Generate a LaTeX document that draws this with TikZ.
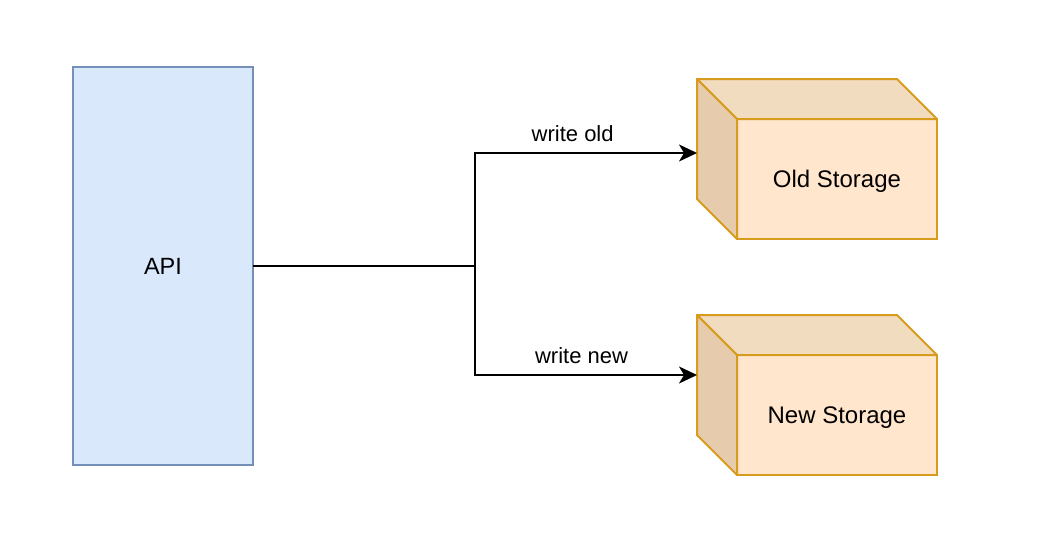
\documentclass[tikz,border=0pt]{standalone}
\usepackage{fontspec}
\setmainfont{Liberation Sans}
\usetikzlibrary{arrows.meta,positioning}

\definecolor{apifill}{HTML}{DAE8FC}
\definecolor{apiline}{HTML}{7590B8}
\definecolor{storefill}{HTML}{FFE6CC}
\definecolor{storetop}{HTML}{F2DCBF}
\definecolor{storeside}{HTML}{E6CCAD}
\definecolor{storeline}{HTML}{D79B1E}

\begin{document}
\begin{tikzpicture}[
    node distance=484pt,
    api/.style={
        rectangle, draw=apiline, fill=apifill, line width=1.6pt, outer sep=0pt,
        minimum width=180pt, minimum height=398pt, font=\fontsize{23.5}{28}\selectfont
    },
    store/.style={
        rectangle, draw=storeline, fill=storefill, line width=2pt, outer sep=0pt,
        minimum width=200pt, minimum height=120pt, text depth=0pt, font=\fontsize{24}{28}\selectfont
    },
    face/.style={draw=storeline, line width=2pt, line join=round},
    arrow/.style={-{Stealth[length=18pt,width=17pt,inset=5pt]}, line width=2pt, black},
    wire/.style={line width=2pt, black},
    label/.style={font=\fontsize{22}{26}\selectfont, above, inner sep=0pt, yshift=10.5pt}
]
\useasboundingbox (-163pt,266pt) rectangle (881pt,-289pt);

% Nodes
\node[api] (API) {API};
\node[store, right=of API, yshift=87pt] (OldStore) {Old Storage};
\node[store, right=of API, yshift=-149pt] (NewStore) {New Storage};

% Cube faces
\foreach \s in {OldStore,NewStore} {
    \filldraw[face, fill=storetop] (\s.north west) -- ++(-40pt,40pt) -- ++(200pt,0) -- (\s.north east) -- cycle;
    \filldraw[face, fill=storeside] (\s.north west) -- ++(-40pt,40pt) -- ++(0,-120pt) -- (\s.south west) -- cycle;
}

% Arrows
\coordinate[right=222pt of API.east] (split);
\coordinate (OldIn) at ([xshift=-40pt,yshift=26pt]OldStore.west);
\coordinate (NewIn) at ([xshift=-40pt,yshift=40pt]NewStore.west);
\draw[wire] (API.east) -- (split);
\draw[arrow] (split) |- node[label, pos=.72]{write old} (OldIn);
\draw[arrow] (split) |- node[label, pos=.74]{write new} (NewIn);

\end{tikzpicture}
\end{document}
